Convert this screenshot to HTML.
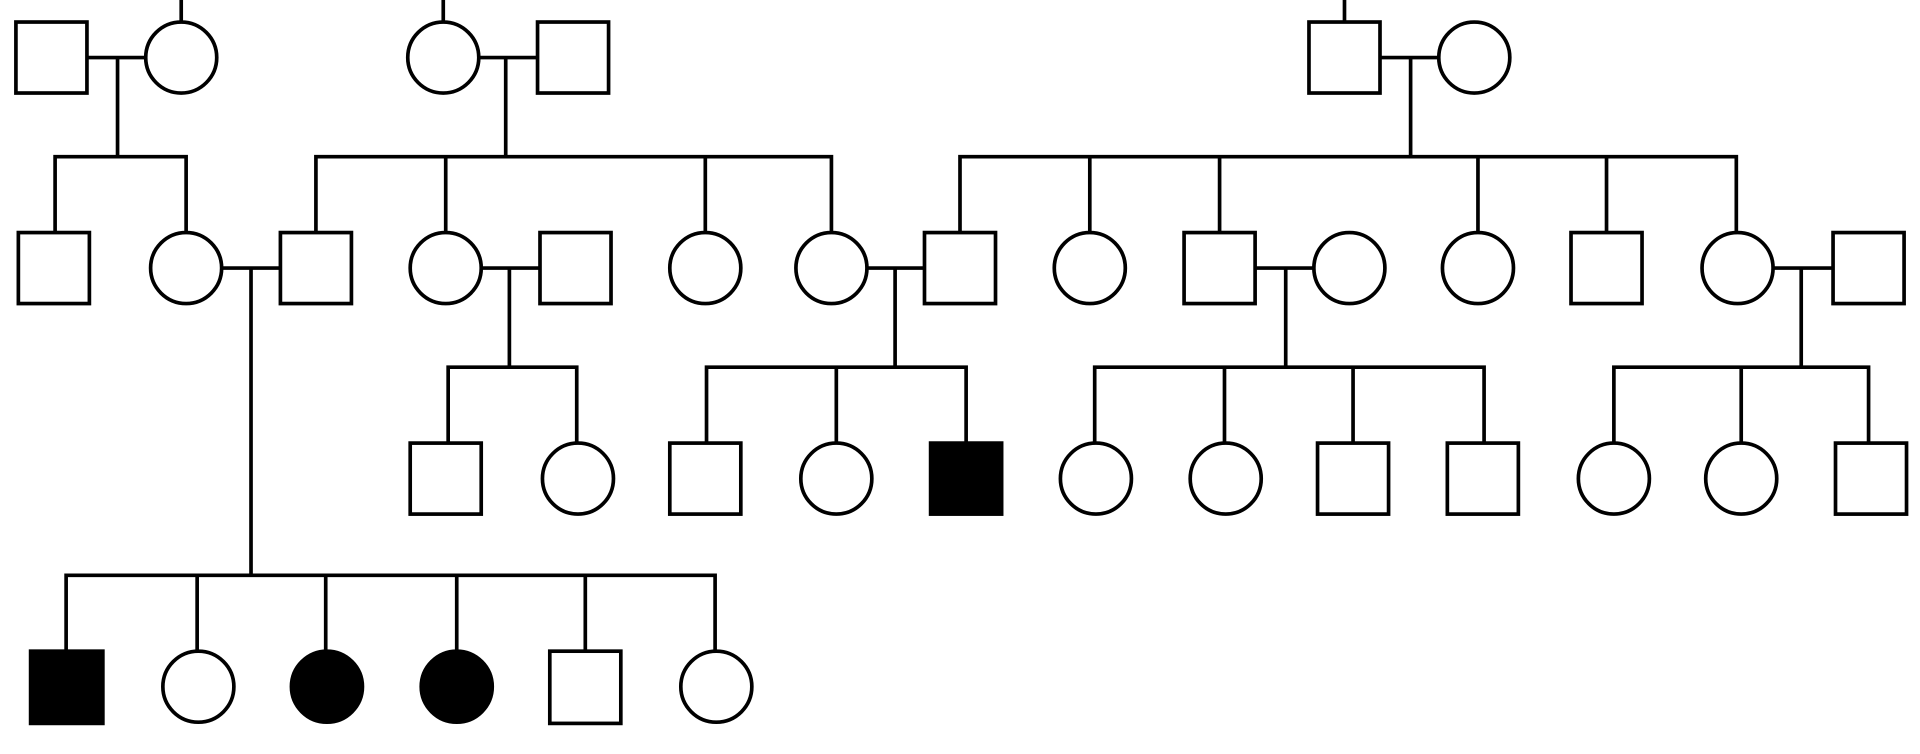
<!DOCTYPE html>
<html><head><style>html,body{margin:0;padding:0;background:#fff}svg{display:block}</style></head>
<body>
<svg width="1920" height="754" viewBox="0 0 1568 616" preserveAspectRatio="none" xmlns="http://www.w3.org/2000/svg">
<g stroke="#000" stroke-width="3" fill="none" stroke-linecap="square">
<path d="M148 0V18 M362 0V18 M1098 0V18
M71 47H119 M96 47V128 M45 128H152 M45 128V190 M152 128V190
M391 47H439 M413 47V128 M258 128H679 M258 128V190 M364 128V190 M576 128V190 M679 128V190
M1127 47H1175 M1152 47V128 M784 128H1418 M784 128V190 M890 128V190 M996 128V190 M1207 128V190 M1312 128V190 M1418 128V190
M181 219H229 M205 219V470
M393 219H441 M416 219V300 M366 300H471 M366 300V362 M471 300V362
M708 219H755 M731 219V300 M577 300H789 M577 300V362 M683 300V362 M789 300V362
M1025 219H1073 M1050 219V300 M894 300H1212 M894 300V362 M1000 300V362 M1105 300V362 M1212 300V362
M1448 219H1497 M1471 219V300 M1318 300H1526 M1318 300V362 M1422 300V362 M1526 300V362
M54 470H584 M54 470V532 M161 470V532 M266 470V532 M373 470V532 M478 470V532 M584 470V532"/>
</g>
<g stroke="#000" stroke-width="3" fill="#fff">
<rect x="13" y="18" width="58" height="58"/><circle cx="148" cy="47" r="29"/>
<circle cx="362" cy="47" r="29"/><rect x="439" y="18" width="58" height="58"/>
<rect x="1069" y="18" width="58" height="58"/><circle cx="1204" cy="47" r="29"/>
<rect x="15" y="190" width="58" height="58"/><circle cx="152" cy="219" r="29"/>
<rect x="229" y="190" width="58" height="58"/><circle cx="364" cy="219" r="29"/>
<rect x="441" y="190" width="58" height="58"/><circle cx="576" cy="219" r="29"/>
<circle cx="679" cy="219" r="29"/><rect x="755" y="190" width="58" height="58"/>
<circle cx="890" cy="219" r="29"/><rect x="967" y="190" width="58" height="58"/>
<circle cx="1102" cy="219" r="29"/><circle cx="1207" cy="219" r="29"/>
<rect x="1283" y="190" width="58" height="58"/><circle cx="1419" cy="219" r="29"/>
<rect x="1497" y="190" width="58" height="58"/>
<rect x="335" y="362" width="58" height="58"/><circle cx="472" cy="391" r="29"/>
<rect x="547" y="362" width="58" height="58"/><circle cx="683" cy="391" r="29"/>
<rect x="760" y="362" width="58" height="58" fill="#000"/>
<circle cx="895" cy="391" r="29"/><circle cx="1001" cy="391" r="29"/>
<rect x="1076" y="362" width="58" height="58"/><rect x="1182" y="362" width="58" height="58"/>
<circle cx="1318" cy="391" r="29"/><circle cx="1422" cy="391" r="29"/>
<rect x="1499" y="362" width="58" height="58"/>
<rect x="25" y="532" width="59" height="59" fill="#000"/>
<circle cx="162" cy="561" r="29"/>
<circle cx="267" cy="561" r="29" fill="#000"/>
<circle cx="373" cy="561" r="29" fill="#000"/>
<rect x="449" y="532" width="58" height="59"/>
<circle cx="585" cy="561" r="29"/>
</g>
</svg>
</body></html>
